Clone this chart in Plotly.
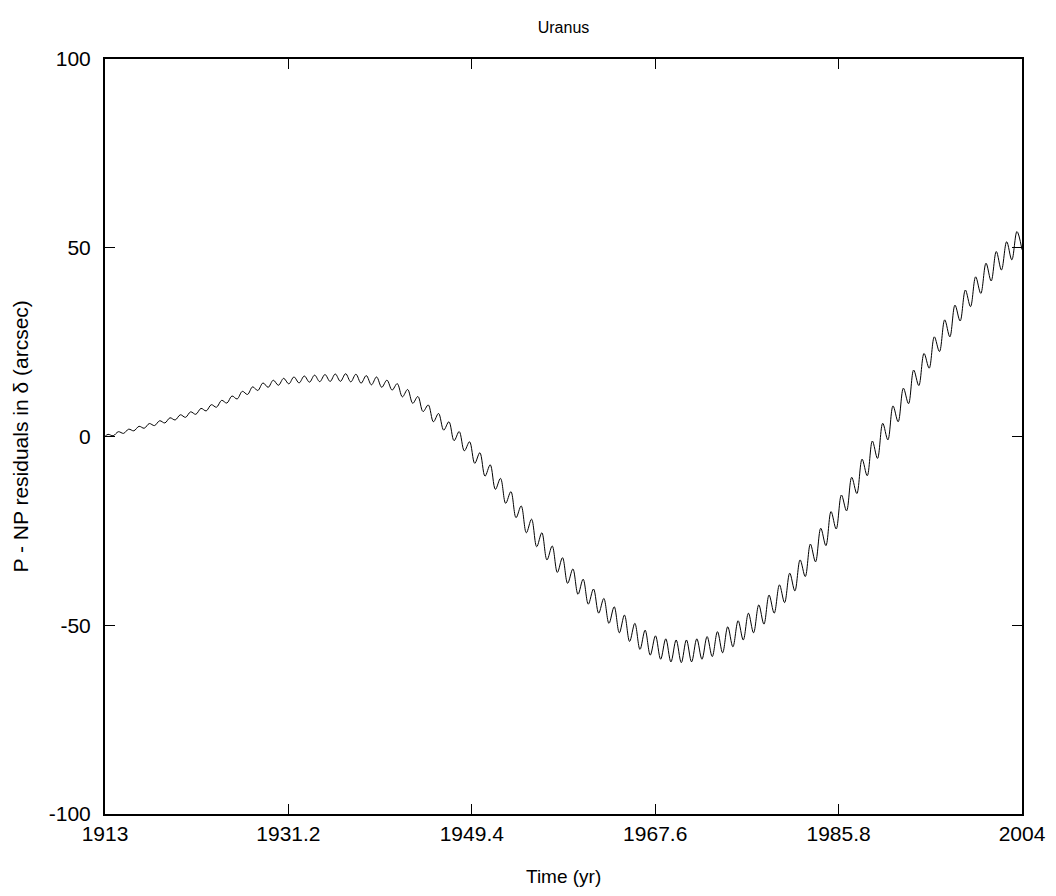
import plotly.graph_objects as go

# Extrema of the annual oscillation (year, arcsec)
start_year = [1913.0]
start_val = [0.0]

peak_years = [1913.30, 1914.33, 1915.35, 1916.38, 1917.40, 1918.43, 1919.45, 1920.48, 1921.50, 1922.53,
              1923.55, 1924.58, 1925.60, 1926.63, 1927.65, 1928.68, 1929.70, 1930.73, 1931.75, 1932.78,
              1933.80, 1934.83, 1935.85, 1936.88, 1937.90, 1938.93, 1939.95, 1940.98, 1942.00, 1943.03,
              1944.05, 1945.08, 1946.10, 1947.13, 1948.15, 1949.18, 1950.20, 1951.23, 1952.25, 1953.28,
              1954.30, 1955.33, 1956.35, 1957.38, 1958.40, 1959.43, 1960.45, 1961.48, 1962.50, 1963.53,
              1964.55, 1965.58, 1966.60, 1967.63, 1968.65, 1969.68, 1970.70, 1971.73, 1972.75, 1973.78,
              1974.80, 1975.83, 1976.85, 1977.88, 1978.90, 1979.93, 1980.95, 1981.98, 1983.00, 1984.03,
              1985.05, 1986.08, 1987.10, 1988.13, 1989.15, 1990.18, 1991.20, 1992.23, 1993.25, 1994.28,
              1995.30, 1996.33, 1997.35, 1998.38, 1999.40, 2000.43, 2001.45, 2002.48, 2003.50]
peak_vals = [0.57, 1.27, 1.94, 2.70, 3.43, 4.17, 4.95, 5.75, 6.53, 7.44,
             8.42, 9.58, 10.73, 11.96, 13.15, 14.18, 14.91, 15.41, 15.77, 16.02,
             16.25, 16.41, 16.56, 16.63, 16.49, 16.13, 15.77, 14.92, 14.0, 12.45,
             10.6, 8.35, 6.1, 3.9, 1.3, -1.4, -4.3, -7.5, -11.1, -14.6,
             -18.4, -21.9, -25.5, -29.0, -32.1, -35.1, -37.8, -40.4, -42.9, -45.1,
             -47.3, -49.5, -51.3, -52.8, -53.6, -53.9, -53.9, -53.6, -53.0, -51.7,
             -50.4, -48.8, -46.8, -44.6, -42.0, -39.3, -36.2, -32.7, -28.5, -24.3,
             -19.9, -15.5, -10.8, -6.0, -1.2, 3.5, 8.1, 12.8, 17.6, 22.0,
             26.4, 30.9, 34.8, 38.8, 42.3, 45.9, 49.0, 51.6, 54.3]

trough_years = [1913.81, 1914.84, 1915.86, 1916.89, 1917.91, 1918.94, 1919.96, 1920.99, 1922.01, 1923.04,
                1924.06, 1925.09, 1926.11, 1927.14, 1928.16, 1929.19, 1930.21, 1931.24, 1932.26, 1933.29,
                1934.31, 1935.34, 1936.36, 1937.39, 1938.41, 1939.44, 1940.46, 1941.49, 1942.51, 1943.54,
                1944.56, 1945.59, 1946.61, 1947.64, 1948.66, 1949.69, 1950.71, 1951.74, 1952.76, 1953.79,
                1954.81, 1955.84, 1956.86, 1957.89, 1958.91, 1959.94, 1960.96, 1961.99, 1963.01, 1964.04,
                1965.06, 1966.09, 1967.11, 1968.14, 1969.16, 1970.19, 1971.21, 1972.24, 1973.26, 1974.29,
                1975.31, 1976.34, 1977.36, 1978.39, 1979.41, 1980.44, 1981.46, 1982.49, 1983.51, 1984.54,
                1985.56, 1986.59, 1987.61, 1988.64, 1989.66, 1990.69, 1991.71, 1992.74, 1993.76, 1994.79,
                1995.81, 1996.84, 1997.86, 1998.89, 1999.91, 2000.94, 2001.96, 2002.99, 2004.0]
trough_vals = [0.20, 0.83, 1.51, 2.19, 2.89, 3.59, 4.38, 5.08, 5.88, 6.78,
               7.76, 8.85, 9.95, 11.14, 12.19, 13.03, 13.58, 13.94, 14.2, 14.39,
               14.53, 14.58, 14.61, 14.47, 14.13, 13.69, 13.04, 12.3, 10.5, 8.8,
               6.6, 3.9, 1.7, -1.1, -3.8, -7.1, -10.5, -14.0, -17.7, -21.5,
               -25.5, -29.2, -32.7, -36.0, -38.9, -41.8, -44.4, -46.8, -49.5, -52.0,
               -54.3, -56.4, -57.9, -59.0, -59.7, -59.9, -59.7, -59.0, -58.3, -57.3,
               -55.7, -53.9, -52.0, -49.7, -46.8, -44.0, -40.9, -37.1, -33.2, -28.9,
               -24.5, -19.7, -15.1, -10.4, -5.8, -0.9, 3.9, 8.7, 13.5, 18.1,
               22.5, 26.4, 30.6, 34.4, 37.9, 41.2, 44.1, 46.8, 49.5]

x_ticks = [1913, 1931.2, 1949.4, 1967.6, 1985.8, 2004]
x_tick_labels = ["1913", "1931.2", "1949.4", "1967.6", "1985.8", "2004"]
y_ticks = [-100, -50, 0, 50, 100]
y_tick_labels = ["-100", "-50", "0", "50", "100"]

pts = sorted(zip(start_year + peak_years + trough_years, start_val + peak_vals + trough_vals))
xs = [p[0] for p in pts]
ys = [p[1] for p in pts]

fig = go.Figure()
fig.add_trace(go.Scatter(x=xs, y=ys, mode="lines",
                         line=dict(color="black", width=1, shape="spline", smoothing=1.0),
                         showlegend=False, hoverinfo="skip"))

font_family = "Liberation Sans, Arial, sans-serif"
axis_common = dict(showgrid=False, zeroline=False, showline=True, linecolor="black", linewidth=2,
                   mirror="ticks", ticks="inside", ticklen=10, tickwidth=1, tickcolor="black",
                   automargin=False,
                   tickfont=dict(family=font_family, size=21, color="black"))

PW = 1022 - 105
PH = 814 - 59

fig.update_layout(
    width=1056, height=896, autosize=False,
    paper_bgcolor="white", plot_bgcolor="white",
    margin=dict(l=105, r=34, t=59, b=82, autoexpand=False),
    title=dict(text="Uranus", x=0.5, xref="paper", xanchor="center", y=1 - 27 / 896, yanchor="middle",
               font=dict(family=font_family, size=16, color="black")),
    xaxis=dict(range=[1913, 2004], tickvals=x_ticks, ticktext=x_tick_labels, **axis_common),
    yaxis=dict(range=[-100, 100], tickvals=y_ticks, ticktext=y_tick_labels,
               ticklabelstandoff=8, **axis_common),
    annotations=[
        dict(text="Time (yr)", xref="paper", yref="paper", x=0.5, y=-62 / PH, xanchor="center",
             yanchor="middle", showarrow=False,
             font=dict(family=font_family, size=19, color="black")),
        dict(text="P - NP residuals in δ (arcsec)", xref="paper", yref="paper", x=-85 / PW, y=0.5,
             xanchor="center", yanchor="middle", textangle=-90, showarrow=False,
             font=dict(family=font_family, size=21, color="black")),
    ],
)

fig.write_html("out.html", config={"displayModeBar": False},
               post_script="document.body.style.margin='0';document.body.style.overflow='hidden';")
